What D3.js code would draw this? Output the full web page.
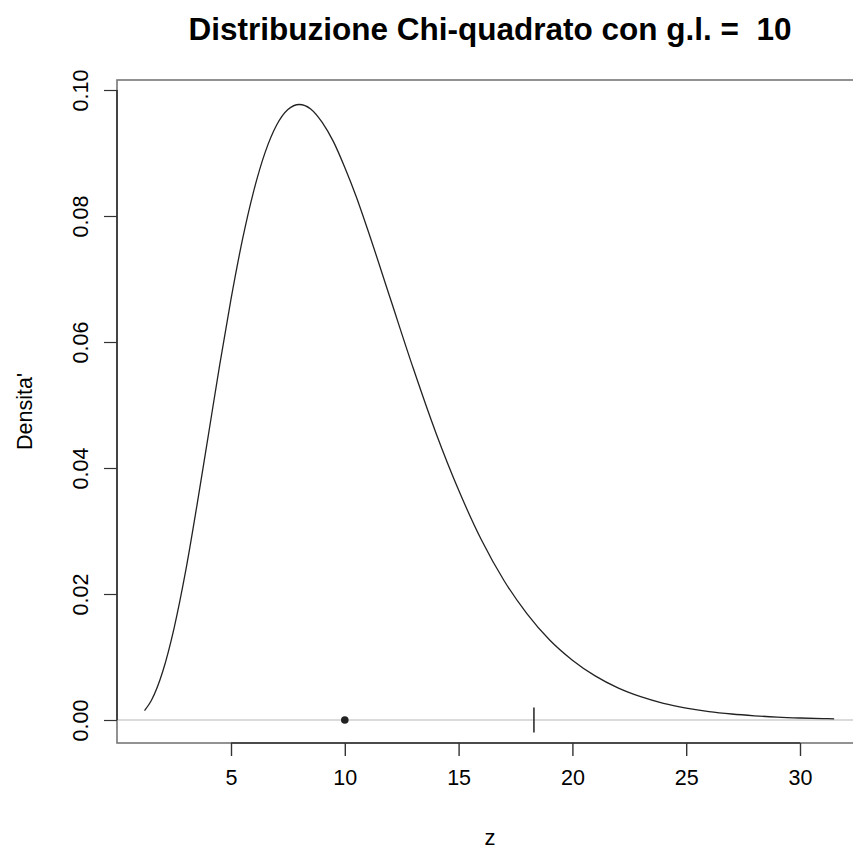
<!DOCTYPE html>
<html>
<head>
<meta charset="utf-8">
<script src="https://cdn.jsdelivr.net/npm/d3@7"></script>
<style>
  body { margin: 0; background: #fff; }
  svg text { font-family: "Liberation Sans", Arial, sans-serif; fill: #000; }
</style>
</head>
<body>
<svg id="chart" width="853" height="852"></svg>
<script>
// values
var zVals = [1.2, 1.5, 2, 2.5, 3, 3.5, 4, 4.5, 5, 5.5, 6, 6.5, 7, 7.5, 8, 8.5, 9, 9.5, 10, 10.5, 11, 12,
    13, 14, 15, 16, 17, 18, 19, 20, 21, 22, 23, 24, 25, 26, 27, 28, 29, 30, 31, 31.5];
var densVals = [0.0015, 0.0031, 0.0077, 0.0146, 0.0235, 0.0340, 0.0451, 0.0563, 0.0668, 0.0762, 0.0840,
    0.0901, 0.0944, 0.0969, 0.0977, 0.0970, 0.0949, 0.0918, 0.0877, 0.0831, 0.0779, 0.0669,
    0.0559, 0.0456, 0.0365, 0.0286, 0.0221, 0.0169, 0.0127, 0.0095, 0.0070, 0.0051, 0.0037,
    0.00265, 0.0019, 0.00134, 0.00095, 0.00067, 0.00046, 0.00032, 0.00022, 0.00019];
var xTicks = [5, 10, 15, 20, 25, 30];
var yTicks = [0, 0.02, 0.04, 0.06, 0.08, 0.10];
var meanPoint = [10, 0];
var critValue = 18.31;
var title = "Distribuzione Chi-quadrato con g.l. =  10";

var svg = d3.select("#chart");
var x = d3.scaleLinear().domain([5, 30]).range([231, 800]);
var y = d3.scaleLinear().domain([0, 0.1]).range([720, 90]);
var box = {left: 117, top: 80, bottom: 743, right: 866};

// zero line
svg.append("line")
    .attr("x1", box.left).attr("x2", 853)
    .attr("y1", y(0)).attr("y2", y(0))
    .attr("stroke", "#cfcfcf").attr("stroke-width", 1.3);

// box
svg.append("rect")
    .attr("x", box.left).attr("y", box.top)
    .attr("width", box.right - box.left).attr("height", box.bottom - box.top)
    .attr("fill", "none").attr("stroke", "#777").attr("stroke-width", 1.6);

// x axis
var xAxis = svg.append("g")
    .attr("transform", "translate(0," + box.bottom + ")")
    .call(d3.axisBottom(x).tickValues(xTicks).tickSize(13).tickPadding(14).tickFormat(d3.format("d")));
xAxis.select(".domain").attr("stroke", "#333").attr("stroke-width", 1.4)
    .attr("d", "M" + x(5) + ",0H" + x(30));
xAxis.selectAll(".tick line").attr("stroke", "#333").attr("stroke-width", 1.4);
xAxis.selectAll(".tick text").attr("font-size", 21.5).attr("font-family", "Liberation Sans, Arial, sans-serif").attr("fill", "#111");

// y axis
var yAxis = svg.append("g")
    .attr("transform", "translate(" + box.left + ",0)")
    .call(d3.axisLeft(y).tickValues(yTicks).tickSize(13).tickFormat(d3.format(".2f")));
yAxis.select(".domain").attr("stroke", "#444").attr("stroke-width", 2)
    .attr("d", "M0," + y(0) + "V" + y(0.1));
yAxis.selectAll(".tick line").attr("stroke", "#333").attr("stroke-width", 1.2);
yAxis.selectAll(".tick text")
    .attr("font-size", 21.5).attr("font-family", "Liberation Sans, Arial, sans-serif").attr("fill", "#111")
    .attr("x", null).attr("dy", null)
    .attr("text-anchor", "middle")
    .attr("transform", "translate(-29,0) rotate(-90)");

// density curve
var line = d3.line()
    .x(function(d, i) { return x(zVals[i]); })
    .y(function(d) { return y(d); })
    .curve(d3.curveMonotoneX);
svg.append("path")
    .datum(densVals)
    .attr("d", line)
    .attr("fill", "none").attr("stroke", "#222").attr("stroke-width", 1.3);

// mean point
svg.append("circle")
    .attr("cx", x(meanPoint[0])).attr("cy", y(meanPoint[1]))
    .attr("r", 3.8).attr("fill", "#222");

// critical value mark
svg.append("line")
    .attr("x1", x(critValue)).attr("x2", x(critValue))
    .attr("y1", y(0.002)).attr("y2", y(-0.002))
    .attr("stroke", "#222").attr("stroke-width", 1.5);

// labels
svg.append("text")
    .attr("x", 490).attr("y", 40)
    .attr("text-anchor", "middle")
    .attr("font-size", 31.5).attr("font-weight", "bold")
    .style("white-space", "pre")
    .text(title);

svg.append("text")
    .attr("x", 490).attr("y", 845)
    .attr("text-anchor", "middle")
    .attr("font-size", 22)
    .text("z");

svg.append("text")
    .attr("transform", "translate(32," + ((box.top + box.bottom) / 2) + ") rotate(-90)")
    .attr("text-anchor", "middle")
    .attr("font-size", 21.5)
    .text("Densita'");
</script>
</body>
</html>
